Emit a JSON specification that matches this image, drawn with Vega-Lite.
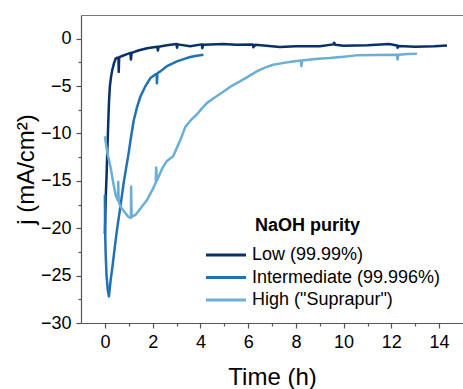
{
  "$schema": "https://vega.github.io/schema/vega-lite/v6.json",
  "width": 382,
  "height": 308,
  "autosize": {"type": "none"},
  "padding": {"left": 81, "top": 15, "right": 0, "bottom": 66},
  "background": "white",
  "config": {
    "view": {"stroke": null},
    "font": "Liberation Sans",
    "axis": {
      "grid": false,
      "labelFont": "Liberation Sans",
      "labelFontSize": 18,
      "labelColor": "black",
      "titleFont": "Liberation Sans",
      "titleFontSize": 24,
      "titleFontWeight": "normal",
      "titleColor": "black",
      "domainColor": "#555555",
      "domainWidth": 1.2,
      "tickColor": "#555555",
      "tickWidth": 1.2
    },
    "legend": {
      "orient": "none",
      "legendX": 136,
      "legendY": 202,
      "padding": 0,
      "titleFont": "Liberation Sans",
      "titleFontSize": 18,
      "titleFontWeight": "bold",
      "titleColor": "black",
      "titlePadding": 11,
      "labelFont": "Liberation Sans",
      "labelFontSize": 18,
      "labelColor": "black",
      "labelLimit": 400,
      "symbolType": "M-4,0L4,0",
      "symbolSize": 100,
      "symbolStrokeWidth": 3,
      "labelOffset": 17,
      "rowPadding": 4.5
    }
  },
  "data": {"values": [
    {"purity": "Low (99.99%)", "t": 0.0, "j": -20.6},
    {"purity": "Low (99.99%)", "t": 0.02, "j": -18.5},
    {"purity": "Low (99.99%)", "t": 0.04, "j": -16.5},
    {"purity": "Low (99.99%)", "t": 0.07, "j": -14.5},
    {"purity": "Low (99.99%)", "t": 0.1, "j": -12.0},
    {"purity": "Low (99.99%)", "t": 0.14, "j": -9.0},
    {"purity": "Low (99.99%)", "t": 0.17, "j": -6.8},
    {"purity": "Low (99.99%)", "t": 0.21, "j": -5.0},
    {"purity": "Low (99.99%)", "t": 0.26, "j": -4.0},
    {"purity": "Low (99.99%)", "t": 0.31, "j": -3.3},
    {"purity": "Low (99.99%)", "t": 0.38, "j": -2.6},
    {"purity": "Low (99.99%)", "t": 0.45, "j": -2.1},
    {"purity": "Low (99.99%)", "t": 0.52, "j": -2.0},
    {"purity": "Low (99.99%)", "t": 0.57, "j": -2.0},
    {"purity": "Low (99.99%)", "t": 0.58, "j": -3.5},
    {"purity": "Low (99.99%)", "t": 0.6, "j": -1.95},
    {"purity": "Low (99.99%)", "t": 0.75, "j": -1.8},
    {"purity": "Low (99.99%)", "t": 0.9, "j": -1.65},
    {"purity": "Low (99.99%)", "t": 1.07, "j": -1.5},
    {"purity": "Low (99.99%)", "t": 1.09, "j": -2.2},
    {"purity": "Low (99.99%)", "t": 1.12, "j": -1.5},
    {"purity": "Low (99.99%)", "t": 1.4, "j": -1.25},
    {"purity": "Low (99.99%)", "t": 1.77, "j": -1.0},
    {"purity": "Low (99.99%)", "t": 2.05, "j": -0.9},
    {"purity": "Low (99.99%)", "t": 2.2, "j": -0.85},
    {"purity": "Low (99.99%)", "t": 2.22, "j": -1.25},
    {"purity": "Low (99.99%)", "t": 2.25, "j": -0.85},
    {"purity": "Low (99.99%)", "t": 2.6, "j": -0.7},
    {"purity": "Low (99.99%)", "t": 3.0, "j": -0.56},
    {"purity": "Low (99.99%)", "t": 3.02, "j": -0.95},
    {"purity": "Low (99.99%)", "t": 3.05, "j": -0.6},
    {"purity": "Low (99.99%)", "t": 3.57, "j": -0.8},
    {"purity": "Low (99.99%)", "t": 4.06, "j": -0.6},
    {"purity": "Low (99.99%)", "t": 4.08, "j": -1.0},
    {"purity": "Low (99.99%)", "t": 4.12, "j": -0.65},
    {"purity": "Low (99.99%)", "t": 4.96, "j": -0.56},
    {"purity": "Low (99.99%)", "t": 5.5, "j": -0.65},
    {"purity": "Low (99.99%)", "t": 6.2, "j": -0.6},
    {"purity": "Low (99.99%)", "t": 6.22, "j": -0.9},
    {"purity": "Low (99.99%)", "t": 6.3, "j": -0.65},
    {"purity": "Low (99.99%)", "t": 7.33, "j": -0.88},
    {"purity": "Low (99.99%)", "t": 8.0, "j": -0.8},
    {"purity": "Low (99.99%)", "t": 9.0, "j": -0.8},
    {"purity": "Low (99.99%)", "t": 9.58, "j": -0.6},
    {"purity": "Low (99.99%)", "t": 9.6, "j": -0.42},
    {"purity": "Low (99.99%)", "t": 9.65, "j": -0.65},
    {"purity": "Low (99.99%)", "t": 10.0, "j": -0.75},
    {"purity": "Low (99.99%)", "t": 11.0, "j": -0.7},
    {"purity": "Low (99.99%)", "t": 11.9, "j": -0.56},
    {"purity": "Low (99.99%)", "t": 12.24, "j": -0.72},
    {"purity": "Low (99.99%)", "t": 12.26, "j": -0.95},
    {"purity": "Low (99.99%)", "t": 12.3, "j": -0.78},
    {"purity": "Low (99.99%)", "t": 13.0, "j": -0.85},
    {"purity": "Low (99.99%)", "t": 13.8, "j": -0.8},
    {"purity": "Low (99.99%)", "t": 14.33, "j": -0.72},
    {"purity": "Intermediate (99.996%)", "t": 0.0, "j": -16.5},
    {"purity": "Intermediate (99.996%)", "t": 0.01, "j": -20.0},
    {"purity": "Intermediate (99.996%)", "t": 0.03, "j": -22.5},
    {"purity": "Intermediate (99.996%)", "t": 0.07, "j": -25.0},
    {"purity": "Intermediate (99.996%)", "t": 0.12, "j": -26.5},
    {"purity": "Intermediate (99.996%)", "t": 0.17, "j": -27.2},
    {"purity": "Intermediate (99.996%)", "t": 0.2, "j": -26.5},
    {"purity": "Intermediate (99.996%)", "t": 0.24, "j": -25.5},
    {"purity": "Intermediate (99.996%)", "t": 0.31, "j": -24.2},
    {"purity": "Intermediate (99.996%)", "t": 0.4, "j": -22.3},
    {"purity": "Intermediate (99.996%)", "t": 0.5, "j": -20.3},
    {"purity": "Intermediate (99.996%)", "t": 0.65, "j": -17.7},
    {"purity": "Intermediate (99.996%)", "t": 0.8, "j": -15.0},
    {"purity": "Intermediate (99.996%)", "t": 0.9, "j": -13.5},
    {"purity": "Intermediate (99.996%)", "t": 1.0, "j": -12.0},
    {"purity": "Intermediate (99.996%)", "t": 1.1, "j": -10.3},
    {"purity": "Intermediate (99.996%)", "t": 1.21, "j": -8.6},
    {"purity": "Intermediate (99.996%)", "t": 1.35, "j": -7.2},
    {"purity": "Intermediate (99.996%)", "t": 1.49, "j": -6.1},
    {"purity": "Intermediate (99.996%)", "t": 1.7, "j": -5.0},
    {"purity": "Intermediate (99.996%)", "t": 1.91, "j": -4.15},
    {"purity": "Intermediate (99.996%)", "t": 2.1, "j": -3.8},
    {"purity": "Intermediate (99.996%)", "t": 2.17, "j": -3.7},
    {"purity": "Intermediate (99.996%)", "t": 2.18, "j": -4.7},
    {"purity": "Intermediate (99.996%)", "t": 2.2, "j": -3.65},
    {"purity": "Intermediate (99.996%)", "t": 2.32, "j": -3.45},
    {"purity": "Intermediate (99.996%)", "t": 2.6, "j": -2.9},
    {"purity": "Intermediate (99.996%)", "t": 3.02, "j": -2.4},
    {"purity": "Intermediate (99.996%)", "t": 3.3, "j": -2.15},
    {"purity": "Intermediate (99.996%)", "t": 3.57, "j": -1.93},
    {"purity": "Intermediate (99.996%)", "t": 3.85, "j": -1.8},
    {"purity": "Intermediate (99.996%)", "t": 4.13, "j": -1.7},
    {"purity": "High (\"Suprapur\")", "t": 0.0, "j": -10.3},
    {"purity": "High (\"Suprapur\")", "t": 0.1, "j": -12.0},
    {"purity": "High (\"Suprapur\")", "t": 0.24, "j": -13.6},
    {"purity": "High (\"Suprapur\")", "t": 0.35, "j": -15.2},
    {"purity": "High (\"Suprapur\")", "t": 0.45, "j": -16.5},
    {"purity": "High (\"Suprapur\")", "t": 0.55, "j": -17.1},
    {"purity": "High (\"Suprapur\")", "t": 0.56, "j": -15.1},
    {"purity": "High (\"Suprapur\")", "t": 0.58, "j": -17.2},
    {"purity": "High (\"Suprapur\")", "t": 0.65, "j": -17.7},
    {"purity": "High (\"Suprapur\")", "t": 0.8, "j": -18.2},
    {"purity": "High (\"Suprapur\")", "t": 0.98, "j": -18.8},
    {"purity": "High (\"Suprapur\")", "t": 1.09, "j": -18.9},
    {"purity": "High (\"Suprapur\")", "t": 1.1, "j": -15.6},
    {"purity": "High (\"Suprapur\")", "t": 1.12, "j": -18.8},
    {"purity": "High (\"Suprapur\")", "t": 1.28, "j": -18.6},
    {"purity": "High (\"Suprapur\")", "t": 1.5, "j": -17.9},
    {"purity": "High (\"Suprapur\")", "t": 1.77, "j": -17.0},
    {"purity": "High (\"Suprapur\")", "t": 2.0, "j": -15.9},
    {"purity": "High (\"Suprapur\")", "t": 2.13, "j": -15.2},
    {"purity": "High (\"Suprapur\")", "t": 2.15, "j": -13.6},
    {"purity": "High (\"Suprapur\")", "t": 2.18, "j": -15.0},
    {"purity": "High (\"Suprapur\")", "t": 2.4, "j": -13.7},
    {"purity": "High (\"Suprapur\")", "t": 2.6, "j": -12.9},
    {"purity": "High (\"Suprapur\")", "t": 2.86, "j": -12.4},
    {"purity": "High (\"Suprapur\")", "t": 3.0, "j": -11.6},
    {"purity": "High (\"Suprapur\")", "t": 3.16, "j": -10.7},
    {"purity": "High (\"Suprapur\")", "t": 3.37, "j": -9.3},
    {"purity": "High (\"Suprapur\")", "t": 3.6, "j": -8.6},
    {"purity": "High (\"Suprapur\")", "t": 3.85, "j": -8.0},
    {"purity": "High (\"Suprapur\")", "t": 4.05, "j": -7.4},
    {"purity": "High (\"Suprapur\")", "t": 4.27, "j": -6.8},
    {"purity": "High (\"Suprapur\")", "t": 4.6, "j": -6.2},
    {"purity": "High (\"Suprapur\")", "t": 4.96, "j": -5.6},
    {"purity": "High (\"Suprapur\")", "t": 5.3, "j": -5.0},
    {"purity": "High (\"Suprapur\")", "t": 5.66, "j": -4.5},
    {"purity": "High (\"Suprapur\")", "t": 6.0, "j": -4.0},
    {"purity": "High (\"Suprapur\")", "t": 6.36, "j": -3.45},
    {"purity": "High (\"Suprapur\")", "t": 6.7, "j": -3.05},
    {"purity": "High (\"Suprapur\")", "t": 7.05, "j": -2.75},
    {"purity": "High (\"Suprapur\")", "t": 7.5, "j": -2.55},
    {"purity": "High (\"Suprapur\")", "t": 7.88, "j": -2.4},
    {"purity": "High (\"Suprapur\")", "t": 8.21, "j": -2.3},
    {"purity": "High (\"Suprapur\")", "t": 8.23, "j": -2.9},
    {"purity": "High (\"Suprapur\")", "t": 8.26, "j": -2.3},
    {"purity": "High (\"Suprapur\")", "t": 8.8, "j": -2.15},
    {"purity": "High (\"Suprapur\")", "t": 9.41, "j": -2.04},
    {"purity": "High (\"Suprapur\")", "t": 10.0, "j": -1.9},
    {"purity": "High (\"Suprapur\")", "t": 10.53, "j": -1.76},
    {"purity": "High (\"Suprapur\")", "t": 11.3, "j": -1.72},
    {"purity": "High (\"Suprapur\")", "t": 12.24, "j": -1.69},
    {"purity": "High (\"Suprapur\")", "t": 12.26, "j": -2.2},
    {"purity": "High (\"Suprapur\")", "t": 12.29, "j": -1.69},
    {"purity": "High (\"Suprapur\")", "t": 12.7, "j": -1.62},
    {"purity": "High (\"Suprapur\")", "t": 13.07, "j": -1.6}
  ]},
  "resolve": {"axis": {"x": "independent", "y": "independent"}},
  "layer": [
    {
      "mark": {"type": "line", "strokeWidth": 2.5, "strokeJoin": "round"},
      "encoding": {
        "x": {"field": "t", "type": "quantitative",
              "scale": {"domain": [-1, 15], "nice": false, "zero": false},
              "axis": {"orient": "bottom", "values": [0, 2, 4, 6, 8, 10, 12, 14], "title": "Time (h)",
                       "tickSize": 5, "labelPadding": 5, "titleY": 42, "titleBaseline": "top"}},
        "y": {"field": "j", "type": "quantitative",
              "scale": {"domain": [-30, 2.5], "nice": false, "zero": false},
              "axis": {"orient": "left", "values": [-30, -25, -20, -15, -10, -5, 0], "title": "j (mA/cm²)",
                       "tickSize": 5, "labelPadding": 5, "titleX": -43}},
        "color": {"field": "purity", "type": "nominal", "title": "NaOH purity",
                  "scale": {"domain": ["Low (99.99%)", "Intermediate (99.996%)", "High (\"Suprapur\")"],
                            "range": ["#08306b", "#2171b5", "#6baed6"]},
                  "legend": {"encode": {"title": {"update": {"dx": {"value": 38}}}}}}
      }
    },
    {
      "mark": {"type": "point", "opacity": 0},
      "encoding": {
        "x": {"field": "t", "type": "quantitative",
              "axis": {"orient": "bottom", "values": [1, 3, 5, 7, 9, 11, 13], "labels": false, "title": null,
                       "tickSize": 3, "domain": false}},
        "y": {"field": "j", "type": "quantitative",
              "axis": {"orient": "left", "values": [-27.5, -22.5, -17.5, -12.5, -7.5, -2.5], "labels": false, "title": null,
                       "tickSize": 3, "domain": false}}
      }
    },
    {
      "mark": {"type": "point", "opacity": 0},
      "encoding": {
        "x": {"field": "t", "type": "quantitative",
              "axis": {"orient": "top", "labels": false, "ticks": false, "title": null, "domain": true, "domainColor": "#777777"}}
      }
    }
  ]
}
